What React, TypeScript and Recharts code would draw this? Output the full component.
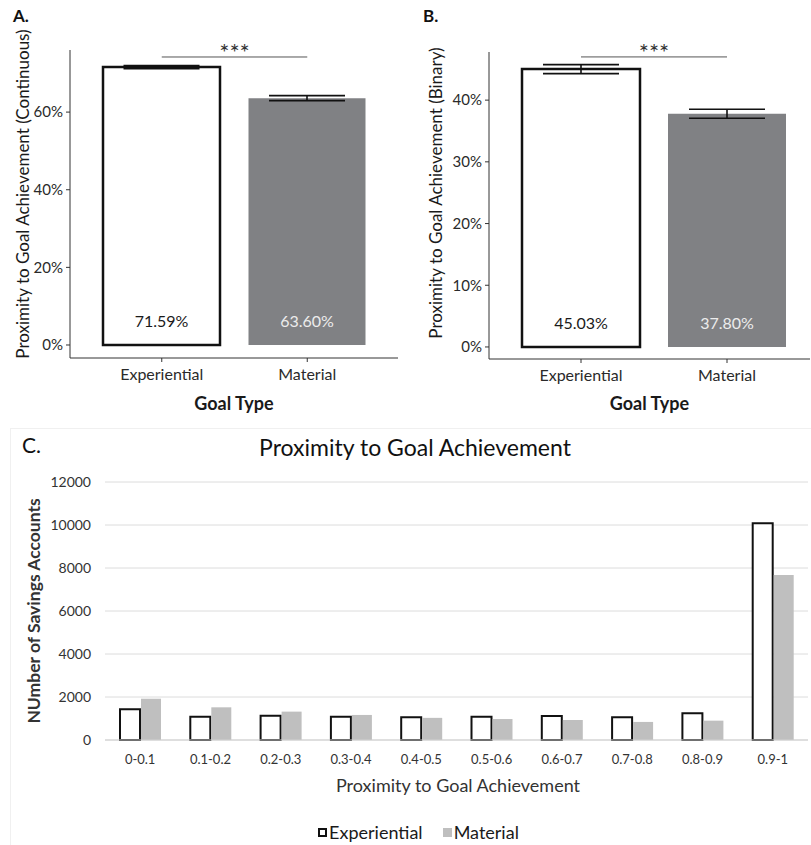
import React from 'react';
import {
  BarChart, Bar, XAxis, YAxis, CartesianGrid, ErrorBar, LabelList, Label,
  Legend, ReferenceLine, Cell,
} from 'recharts';

const FONT = 'Lato, "Open Sans", sans-serif';

// Panels A and B: mean proximity by goal type
const goalTypes = ['Experiential', 'Material'];
const continuousMeans = [71.59, 63.6];
const continuousErrors = [0.4, 0.64];
const continuousTicks = [0, 20, 40, 60];
const continuousSigY = 74.2;

const binaryMeans = [45.03, 37.8];
const binaryErrors = [0.73, 0.73];
const binaryTicks = [0, 10, 20, 30, 40];
const binarySigY = 47.0;

// Panel C: distribution of accounts
const bins = ['0-0.1', '0.1-0.2', '0.2-0.3', '0.3-0.4', '0.4-0.5', '0.5-0.6', '0.6-0.7', '0.7-0.8', '0.8-0.9', '0.9-1'];
const experientialCounts = [1430, 1085, 1130, 1085, 1055, 1085, 1115, 1055, 1240, 10080];
const materialCounts = [1920, 1520, 1320, 1165, 1030, 975, 930, 840, 900, 7680];
const countTicks = [0, 2000, 4000, 6000, 8000, 10000, 12000];

const continuousData = goalTypes.map((g, i) => ({ goal: g, value: continuousMeans[i], err: continuousErrors[i] }));
const binaryData = goalTypes.map((g, i) => ({ goal: g, value: binaryMeans[i], err: binaryErrors[i] }));
const countData = bins.map((b, i) => ({ bin: b, experiential: experientialCounts[i], material: materialCounts[i] }));

const barColors = ['#ffffff', '#808184'];
const labelColors = ['#1a1a1a', '#ececec'];

const valueLabel = (props: any) => {
  const { x, y, width, height, value, index } = props;
  return (
    <text x={x + width / 2} y={y + height - 24} textAnchor="middle" dominantBaseline="central"
      fill={labelColors[index]} fontSize={16} fontFamily={FONT}>
      {Number(value).toFixed(2)}%
    </text>
  );
};

interface PanelProps {
  data: { goal: string; value: number; err: number }[];
  ticks: number[];
  domain: [number, number];
  sigY: number;
  yTitle: string;
  yTitleX: number;
  yTitleY: number;
  margin: { top: number; right: number; bottom: number; left: number };
  padding: { left: number; right: number };
  barSize: number;
  width: number;
}

const GoalPanel: React.FC<PanelProps> = ({ data, ticks, domain, sigY, yTitle, yTitleX, yTitleY, margin, padding, barSize, width }) => (
  <BarChart width={width} height={420} data={data} margin={margin}>
    <XAxis dataKey="goal" padding={padding} height={40} axisLine={{ stroke: '#333' }} tickLine={{ stroke: '#333' }}
      tickSize={4} tickMargin={7} tick={{ fontSize: 16, fill: '#2a2a2a', fontFamily: FONT }}>
      <Label content={(p: any) => {
        const vb = p.viewBox || {};
        return (
          <text x={vb.x + vb.width / 2} y={403} textAnchor="middle" dominantBaseline="central"
            fontSize={18} fontWeight="bold" fill="#1a1a1a" fontFamily={FONT}>Goal Type</text>
        );
      }} />
    </XAxis>
    <YAxis domain={domain} ticks={ticks} width={40} axisLine={{ stroke: '#333' }} tickLine={{ stroke: '#333' }}
      tickSize={4} tickMargin={3} tickFormatter={(v: number) => `${v}%`}
      tick={{ fontSize: 15, fill: '#2a2a2a', fontFamily: FONT }}>
      <Label content={() => (
        <text x={yTitleX} y={yTitleY} transform={`rotate(-90 ${yTitleX} ${yTitleY})`} textAnchor="middle"
          dominantBaseline="central" fontSize={17} fill="#1a1a1a" fontFamily={FONT}>{yTitle}</text>
      )} />
    </YAxis>
    <ReferenceLine segment={[{ x: 'Experiential', y: sigY }, { x: 'Material', y: sigY }]} stroke="#555" strokeWidth={1}
      ifOverflow="visible">
      <Label value="***" position="top" offset={-4} fontSize={24} fill="#333" fontFamily={FONT} />
    </ReferenceLine>
    <Bar dataKey="value" barSize={barSize} isAnimationActive={false}>
      {data.map((d, i) => (
        <Cell key={d.goal} fill={barColors[i]} stroke={i === 0 ? '#111' : 'none'} strokeWidth={i === 0 ? 2.5 : 0} />
      ))}
      <ErrorBar dataKey="err" width={38} stroke="#111" strokeWidth={1.6} direction="y" />
      <LabelList dataKey="value" content={valueLabel} />
    </Bar>
  </BarChart>
);

const legendStyles: Record<string, React.CSSProperties> = {
  experiential: { width: 5, height: 5, border: '2px solid #111', background: '#fff' },
  material: { width: 9, height: 9, background: '#bfbfbf' },
};

const renderLegend = (props: any) => {
  const { payload = [] } = props;
  return (
    <div style={{ display: 'flex', justifyContent: 'center', gap: 20, paddingLeft: 26, fontFamily: FONT, fontSize: 18, color: '#1a1a1a' }}>
      {payload.map((entry: any) => (
        <span key={entry.value} style={{ display: 'flex', alignItems: 'center' }}>
          <span style={{ ...legendStyles[entry.dataKey], marginRight: 2, display: 'inline-block' }} />
          {entry.value}
        </span>
      ))}
    </div>
  );
};

const abs = (left: number, top: number): React.CSSProperties => ({ position: 'absolute', left, top });

export default function App() {
  return (
    <div style={{ position: 'absolute', left: 0, top: 0, width: 811, height: 845, background: '#fff', fontFamily: FONT }}>
      <div style={{ ...abs(0, 0) }}>
        <GoalPanel data={continuousData} ticks={continuousTicks} domain={[-3.35, 76]} sigY={continuousSigY}
          yTitle="Proximity to Goal Achievement (Continuous)" yTitleX={22} yTitleY={194}
          margin={{ top: 50, right: 7, bottom: 22, left: 30 }} padding={{ left: 19, right: 18 }} barSize={117} width={405} />
      </div>
      <div style={{ ...abs(405, 0) }}>
        <GoalPanel data={binaryData} ticks={binaryTicks} domain={[-1.95, 47.8]} sigY={binarySigY}
          yTitle="Proximity to Goal Achievement (Binary)" yTitleX={30} yTitleY={193}
          margin={{ top: 52, right: 1, bottom: 21, left: 44 }} padding={{ left: 19, right: 10 }} barSize={118} width={406} />
      </div>
      <div style={{ ...abs(10, 428), width: 800, height: 416, border: '1px solid #f0f0f0' }} />
      <div style={{ ...abs(0, 420) }}>
        <BarChart width={811} height={425} data={countData} margin={{ top: 62, right: 3, bottom: 75, left: 45 }}
          barGap={1}>
          <CartesianGrid vertical={false} stroke="#dcdcdc" />
          <XAxis dataKey="bin" height={30} axisLine={{ stroke: '#d0d0d0' }} tickLine={false} tickSize={0} tickMargin={15}
            tick={{ fontSize: 13, fill: '#333', fontFamily: FONT }}>
            <Label content={() => (
              <text x={458} y={365} textAnchor="middle" dominantBaseline="central" fontSize={18} fill="#333"
                fontFamily={FONT}>Proximity to Goal Achievement</text>
            )} />
          </XAxis>
          <YAxis domain={[0, 12000]} ticks={countTicks} width={60} axisLine={false} tickLine={false} tickSize={0}
            tickMargin={14} tick={{ fontSize: 14, fill: '#333', fontFamily: FONT }}>
            <Label content={() => (
              <text x={33} y={191} transform="rotate(-90 33 191)" textAnchor="middle" dominantBaseline="central"
                fontSize={17.5} fontWeight="bold" fill="#333" fontFamily={FONT}>NUmber of Savings Accounts</text>
            )} />
          </YAxis>
          <Legend layout="horizontal" verticalAlign="middle" align="center" content={renderLegend}
            wrapperStyle={{ top: 401, left: 0, width: 811 }} />
          <Bar dataKey="experiential" name="Experiential" fill="#fff" stroke="#111" strokeWidth={2} barSize={20}
            isAnimationActive={false} />
          <Bar dataKey="material" name="Material" fill="#bfbfbf" barSize={20} isAnimationActive={false} />
        </BarChart>
      </div>
      <div style={{ ...abs(13, 5), fontSize: 17, fontWeight: 'bold', color: '#111' }}>A.</div>
      <div style={{ ...abs(423, 5), fontSize: 17, fontWeight: 'bold', color: '#111' }}>B.</div>
      <div style={{ ...abs(22, 432), fontSize: 21, color: '#111' }}>C.</div>
      <div style={{ ...abs(165, 433), width: 500, textAlign: 'center', fontSize: 23, color: '#111' }}>
        Proximity to Goal Achievement
      </div>
    </div>
  );
}
